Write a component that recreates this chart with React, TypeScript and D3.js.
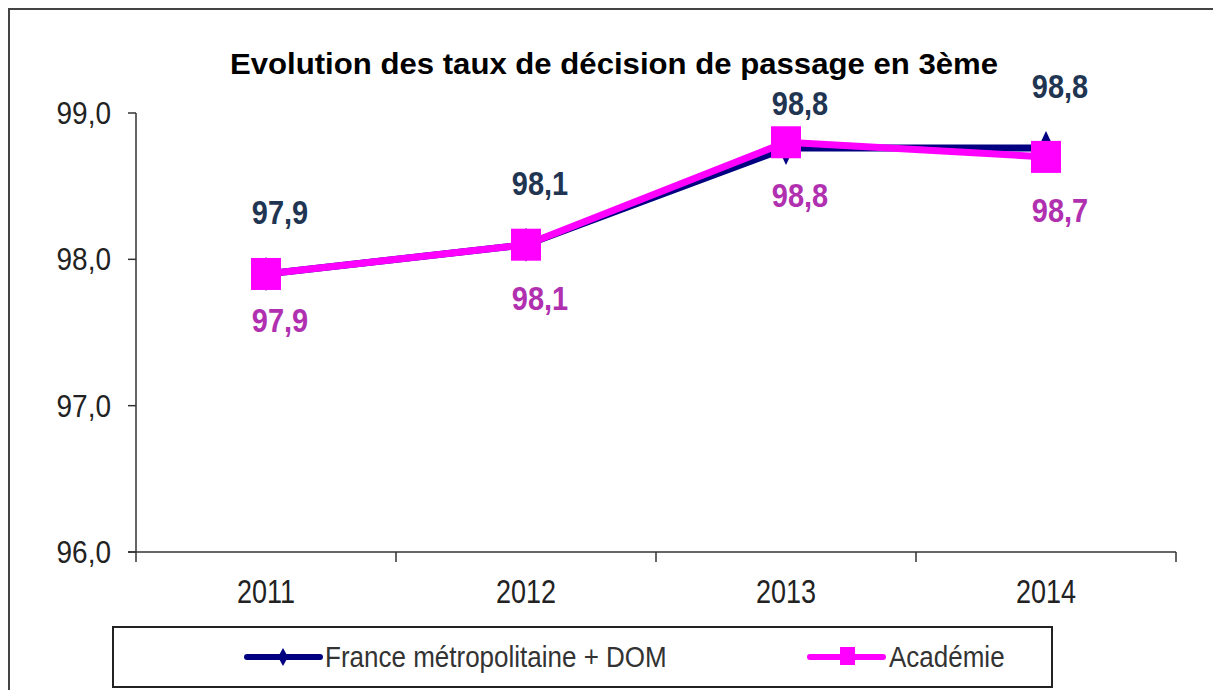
import React from "react";
import * as d3 from "d3";

const years = ["2011", "2012", "2013", "2014"];
const franceValues = [97.9, 98.1, 98.76, 98.76];
const academieValues = [97.9, 98.1, 98.8, 98.7];
const yTicks = [96, 97, 98, 99];

const seriesNames = ["France métropolitaine + DOM", "Académie"];
const title = "Evolution des taux de décision de passage en 3ème";

const W = 1213;
const H = 690;
const font = "'Liberation Sans', Arial, sans-serif";

const fmt = (v: number) => v.toFixed(1).replace(".", ",");

// text slightly stretched vertically, like the source picture
const Txt: React.FC<{
  x: number;
  y: number;
  size: number;
  sy?: number;
  anchor?: "start" | "middle" | "end";
  bold?: boolean;
  fill: string;
  children: React.ReactNode;
}> = ({ x, y, size, sy = 1.14, anchor = "start", bold, fill, children }) => (
  <text
    transform={`translate(${x},${y}) scale(1,${sy})`}
    textAnchor={anchor}
    fontFamily={font}
    fontWeight={bold ? "bold" : "normal"}
    fontSize={size}
    fill={fill}
  >
    {children}
  </text>
);

const App: React.FC = () => {
  const x = d3.scaleBand().domain(years).range([136, 1176]).padding(0);
  const y = d3.scaleLinear().domain([96, 99]).range([552, 113]);
  const cx = (d: string) => x(d)! + x.bandwidth() / 2;

  const line = d3
    .line<number>()
    .x((_, i) => cx(years[i]))
    .y((d) => y(d));

  const diamond = (px: number, py: number, w: number, h: number) =>
    `M${px},${py - h}L${px + w},${py}L${px},${py + h}L${px - w},${py}Z`;

  const navy = "#000080";
  const magenta = "#FF00FF";
  const axisColor = "#333";

  return (
    <svg
      width={W}
      height={H}
      style={{ position: "absolute", left: 0, top: 0, background: "#fff" }}
    >
      <rect x={9} y={9} width={1240} height={720} fill="#fff" stroke="#444" strokeWidth={2} />

      <text
        x={614}
        y={74}
        textAnchor="middle"
        fontFamily={font}
        fontWeight="bold"
        fontSize={29}
        textLength={768}
        lengthAdjust="spacingAndGlyphs"
        fill="#000"
      >
        {title}
      </text>

      {/* y axis */}
      <line x1={136} x2={136} y1={y(99)} y2={y(96)} stroke={axisColor} strokeWidth={1.5} />
      {yTicks.map((t) => (
        <g key={t}>
          <line x1={128} x2={136} y1={y(t)} y2={y(t)} stroke={axisColor} strokeWidth={1.5} />
          <Txt x={111} y={y(t) + 11} size={28} anchor="end" fill="#222">
            {fmt(t)}
          </Txt>
        </g>
      ))}

      {/* x axis */}
      <line x1={128} x2={1176} y1={y(96)} y2={y(96)} stroke={axisColor} strokeWidth={1.5} />
      {[...years.map((d) => x(d)!), 1176].map((p, i) => (
        <line key={i} x1={p} x2={p} y1={y(96)} y2={y(96) + 10} stroke={axisColor} strokeWidth={1.5} />
      ))}
      {years.map((d) => (
        <Txt key={d} x={cx(d)} y={603} size={27} sy={1.2} anchor="middle" fill="#222">
          {d}
        </Txt>
      ))}

      {/* France series */}
      <path d={line(franceValues)!} fill="none" stroke={navy} strokeWidth={7} strokeLinejoin="round" />
      {franceValues.map((v, i) => (
        <path key={i} d={diamond(cx(years[i]), y(v), 8, 17)} fill={navy} />
      ))}

      {/* Académie series */}
      <path d={line(academieValues)!} fill="none" stroke={magenta} strokeWidth={7} strokeLinejoin="round" />
      {academieValues.map((v, i) => (
        <rect key={i} x={cx(years[i]) - 15} y={y(v) - 16} width={30} height={32} fill={magenta} />
      ))}

      {/* data labels */}
      {franceValues.map((v, i) => (
        <Txt
          key={i}
          x={cx(years[i]) + 14}
          y={y(v) - (i === 2 ? 33 : 50)}
          size={29}
          sy={1.12}
          anchor="middle"
          bold
          fill="#1F3552"
        >
          {fmt(v)}
        </Txt>
      ))}
      {academieValues.map((v, i) => (
        <Txt
          key={i}
          x={cx(years[i]) + 14}
          y={y(v) + (i === 0 ? 58 : 65)}
          size={29}
          sy={1.12}
          anchor="middle"
          bold
          fill="#B030B0"
        >
          {fmt(v)}
        </Txt>
      ))}

      {/* legend */}
      <rect x={113} y={627} width={939} height={60} fill="#fff" stroke="#222" strokeWidth={2} />
      <line x1={247} x2={320} y1={657} y2={657} stroke={navy} strokeWidth={6} strokeLinecap="round" />
      <path d={diamond(283, 657, 5, 9)} fill={navy} />
      <Txt x={325} y={667} size={26} sy={1.1} fill="#333">
        {seriesNames[0]}
      </Txt>
      <line x1={810} x2={883} y1={657} y2={657} stroke={magenta} strokeWidth={6} strokeLinecap="round" />
      <rect x={840} y={647} width={15} height={18} fill={magenta} />
      <Txt x={889} y={667} size={26} sy={1.1} fill="#333">
        {seriesNames[1]}
      </Txt>
    </svg>
  );
};

export default App;
